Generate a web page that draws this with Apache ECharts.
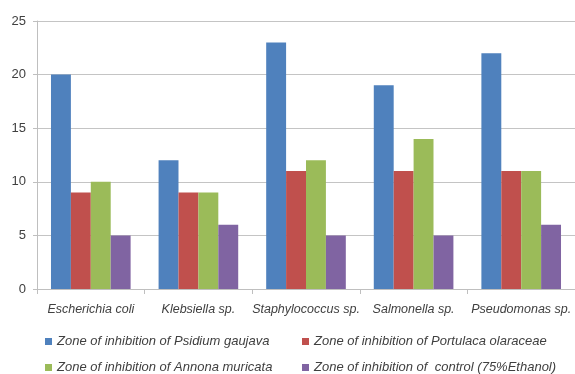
<!DOCTYPE html>
<html>
<head>
<meta charset="utf-8">
<script src="https://cdn.jsdelivr.net/npm/echarts@6/dist/echarts.min.js"></script>
<style>
  html, body { margin: 0; padding: 0; background: #fff; }
  #chart { width: 575px; height: 374px; }
</style>
</head>
<body>
<div id="chart"></div>
<script>
// Bacterial strains tested
const organisms = ['Escherichia coli', 'Klebsiella sp.', 'Staphylococcus sp.', 'Salmonella sp.', 'Pseudomonas sp.'];

// Zone of inhibition (mm) per extract
const psidiumGaujava = [20, 12, 23, 19, 22];
const portulacaOlaraceae = [9, 9, 11, 11, 11];
const annonaMuricata = [10, 9, 12, 14, 11];
const controlEthanol = [5, 6, 5, 5, 6];

const seriesNames = [
  'Zone of inhibition of Psidium gaujava',
  'Zone of inhibition of Portulaca olaraceae',
  'Zone of inhibition of Annona muricata',
  'Zone of inhibition of  control (75%Ethanol)'
];
const seriesData = [psidiumGaujava, portulacaOlaraceae, annonaMuricata, controlEthanol];
const colors = ['#4F81BD', '#C0504D', '#9BBB59', '#8064A2'];

const yTicks = { min: 0, max: 25, interval: 5 };

const textColor = '#404040';
const fontFamily = 'Liberation Sans, Arial, sans-serif';

// One legend per entry so the two-by-two layout can be placed directly
const legendPos = [
  { left: 45, top: 335 },
  { left: 302, top: 335 },
  { left: 45, top: 361 },
  { left: 302, top: 361 }
];

const chart = echarts.init(document.getElementById('chart'), null, { renderer: 'canvas' });

chart.setOption({
  animation: false,
  color: colors,
  grid: { left: 37, top: 21, width: 538, height: 268, containLabel: false },
  legend: seriesNames.map((name, i) => ({
    data: [name],
    left: legendPos[i].left,
    top: legendPos[i].top,
    padding: 0,
    itemWidth: 7,
    itemHeight: 7,
    icon: 'rect',
    textStyle: { color: textColor, fontStyle: 'italic', fontSize: 13, fontFamily: fontFamily }
  })),
  xAxis: {
    type: 'category',
    data: organisms,
    axisLine: { lineStyle: { color: '#BFBFBF', width: 1 } },
    axisTick: { show: true, length: 5, lineStyle: { color: '#BFBFBF' } },
    axisLabel: {
      color: textColor, fontStyle: 'italic', fontSize: 12.5, fontFamily: fontFamily,
      margin: 14, interval: 0
    }
  },
  yAxis: {
    type: 'value',
    min: yTicks.min,
    max: yTicks.max,
    interval: yTicks.interval,
    axisLine: { show: true, lineStyle: { color: '#BFBFBF', width: 1 } },
    axisTick: { show: true, length: 4, lineStyle: { color: '#BFBFBF' } },
    axisLabel: { color: textColor, fontSize: 13, fontFamily: fontFamily, margin: 11 },
    splitLine: { lineStyle: { color: '#C4C4C4', width: 1 } }
  },
  series: seriesData.map((d, i) => ({
    name: seriesNames[i],
    type: 'bar',
    data: d,
    barGap: '0%',
    barCategoryGap: '26%',
    itemStyle: { color: colors[i] }
  }))
});
</script>
</body>
</html>
